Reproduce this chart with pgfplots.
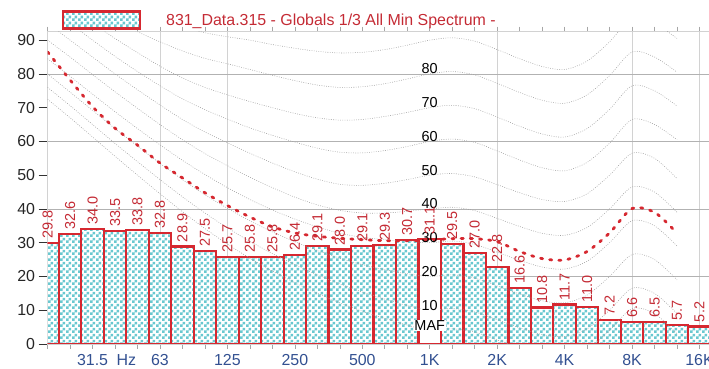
\documentclass[border=0pt]{standalone}
\usepackage{pgfplots}
\pgfplotsset{compat=1.18}
\usepackage{pgfplotstable}
\usepackage{fontspec}
\setmainfont{Liberation Sans}
\usetikzlibrary{patterns}

\pgfdeclarepatternformonly{chkpat}{\pgfpointorigin}{\pgfqpoint{6bp}{6bp}}{\pgfqpoint{6bp}{6bp}}{%
  \pgfpathrectangle{\pgfpointorigin}{\pgfqpoint{3bp}{3bp}}%
  \pgfpathrectangle{\pgfqpoint{3bp}{3bp}}{\pgfqpoint{3bp}{3bp}}%
  \pgfusepath{fill}}

\definecolor{barred}{RGB}{214,40,48}
\definecolor{lblred}{RGB}{196,42,52}
\definecolor{chkcol}{RGB}{105,200,208}
\definecolor{tickblue}{RGB}{50,80,145}

\pgfplotstableread{
i v
0 29.8
1 32.6
2 34.0
3 33.5
4 33.8
5 32.8
6 28.9
7 27.5
8 25.7
9 25.8
10 25.8
11 26.4
12 29.1
13 28.0
14 29.1
15 29.3
16 30.7
17 31.1
18 29.5
19 27.0
20 22.8
21 16.6
22 10.8
23 11.7
24 11.0
25 7.2
26 6.6
27 6.5
28 5.7
29 5.2
}\bars

\pgfplotstableread{
i v
17 31.1
}\barwhite

\pgfplotstableread{
i maf c10 c20 c30 c40 c50 c60 c70 c80 c90
0 72.5 76 80 84.5 90 95 100 105 110 115
1 67 70.6 74.6 79.3 85 90 95 100 105 111
2 61.3 65 69.2 74 79.8 85 90 95 100 107
3 55.6 59.4 63.8 68.8 74.7 80 85.2 90.5 96 103
4 50 54 58.6 63.8 69.8 75.3 80.7 86.3 92.5 99.5
5 44.5 48.7 53.5 59 65 70.8 76.5 82.3 89.5 96.5
6 39.2 43.6 48.7 54.4 60.5 66.5 72.6 78.8 86.8 94
7 34.2 38.8 44.2 50.2 56.4 62.8 69.4 76 84.6 92.2
8 29.6 34.4 40.2 46.3 52.8 59.6 66.6 73.8 83 91
9 25.4 30.4 36.5 42.8 49.4 56.5 64 71.8 81.3 90
10 21.6 26.8 33.2 39.7 46.3 53.6 61.8 70 79.6 88.7
11 18.2 23.5 30.3 37 43.5 51 59.8 68.3 78 87.6
12 15 20.5 27.7 34.7 41.2 48.8 58 67 76.7 86.7
13 12.2 17.8 25.4 32.8 39.6 47.3 56.8 66.3 76 86.2
14 9.7 15.4 23.5 31.6 38.8 47 56.6 66.5 76.2 86.4
15 7.6 13.3 22 30.9 38.8 47.6 57.3 67.4 77.1 87.2
16 5.6 11.4 20.8 30.4 39.3 48.7 58.5 68.6 78.5 88.5
17 4 10 20 30 40 50 60 70 80 90
18 4.5 10.5 20.5 30.5 40.5 50.5 60.7 70.7 80.7 90.7
19 3.5 9.5 19.5 29.5 39.5 49.5 59.7 69.7 79.7 89.7
20 1.2 7.2 17.2 27.2 37.2 47.2 57.2 67.2 77.2 87.2
21 -1.2 4.8 14.8 24.8 34.8 44.8 54.5 64.5 74.5 84.5
22 -3.2 2.8 12.8 22.8 32.8 42.8 52.2 62.2 72.2 82.2
23 -3.8 2.2 12.2 22.2 32.2 42.2 51.3 61.3 71.3 81.3
24 -1.5 4.5 14.5 24.5 34.5 44.5 53.8 63.8 73.8 83.8
25 4 10 20 30 40 50 59.5 69.5 79.5 89.5
26 10.5 16.5 26.5 36.5 46.5 56.5 66.5 76.5 86.5 96.5
27 9 15 25 35 45 55 65 75 85 95
28 3 9 19 29 39 49 60.5 70.5 80.5 90.5
}\contours

\pgfplotstableread{
i v
0 86.5
1 78.2
2 70.3
3 63.9
4 58.9
5 53.6
6 49.2
7 44.8
8 41
9 37.6
10 34.7
11 32.9
12 31.9
13 31.3
14 30.9
15 30.6
16 30.6
17 30.8
18 31.2
19 31.2
20 30.3
21 27.4
22 25.3
23 24.9
24 27.4
25 32.9
26 40.1
27 39
27.9 33.5
}\redcurve

\begin{document}
\begin{tikzpicture}
\useasboundingbox (0,0) rectangle (709bp,369bp);
\begin{axis}[
  at={(47.6bp,25bp)}, anchor=south west,
  scale only axis, width=662bp, height=312.3bp,
  xmin=0, xmax=29.45, ymin=0, ymax=92.5,
  axis line style={gray!35, line width=0.6pt},
  xtick={2,3.5,5,8,11,14,17,20,23,26,29},
  xticklabels={31.5,Hz,63,125,250,500,1K,2K,4K,8K,16K},
  minor xtick={0,1,...,29},
  ytick={0,10,...,90},
  tick align=outside,
  major tick length=9bp, minor tick length=5bp,
  major x tick style={draw=none},
  minor x tick style={gray!70, line width=0.6pt},
  ytick style={black!80, line width=0.7pt},
  xticklabel style={text=tickblue, font=\fontsize{16}{19}\selectfont, yshift=2bp},
  yticklabel style={text=black!85, font=\fontsize{16}{19}\selectfont},
  /pgf/number format/assume math mode=true,
  extra x ticks={5,8,20,26,29},
  extra x tick labels={},
  extra x tick style={grid=major, major grid style={gray!35, line width=0.5pt}, major tick length=0pt},
  extra y ticks={20,40,60,80},
  extra y tick labels={},
  extra y tick style={grid=major, major grid style={gray!60, line width=0.6pt}, major tick length=0pt},
  legend style={at={(axis description cs:0.0217,1.0375)}, anchor=west, draw=none, fill=none,
    inner sep=0pt, outer sep=0pt, font=\fontsize{16}{19}\selectfont, text=lblred,
    /tikz/every odd column/.append style={column sep=23bp}},
]
\addplot[ybar, bar width=1, bar shift=0pt, draw=barred, line width=2.2pt,
  preaction={fill=white}, pattern=chkpat, pattern color=chkcol,
  nodes near coords={\pgfmathprintnumber[fixed,fixed zerofill,precision=1,assume math mode=true]{\pgfplotspointmeta}},
  every node near coord/.append style={rotate=90, anchor=west, text=lblred, font=\fontsize{14.5}{16}\selectfont},
  legend image code/.code={\draw[draw=barred, line width=2.2pt, preaction={fill=white}, pattern=chkpat, pattern color=chkcol] (0bp,-8.5bp) rectangle (77bp,8.5bp);}
] table[x=i, y=v] {\bars};
\addlegendentry{831\_Data.315 - Globals 1/3 All Min Spectrum -}
\addplot[ybar, bar width=1, bar shift=0pt, draw=barred, line width=2.2pt, fill=white, forget plot] table[x=i, y=v] {\barwhite};

\pgfplotsset{cstyle/.style={forget plot, gray!75, line width=0.55pt, dash pattern=on 0.8pt off 1.5pt, smooth, tension=0.5}}
\addplot[cstyle] table[x=i, y=maf] {\contours};
\addplot[cstyle] table[x=i, y=c10] {\contours};
\addplot[cstyle] table[x=i, y=c20] {\contours};
\addplot[cstyle] table[x=i, y=c30] {\contours};
\addplot[cstyle] table[x=i, y=c40] {\contours};
\addplot[cstyle] table[x=i, y=c50] {\contours};
\addplot[cstyle] table[x=i, y=c60] {\contours};
\addplot[cstyle] table[x=i, y=c70] {\contours};
\addplot[cstyle] table[x=i, y=c80] {\contours};
\addplot[cstyle] table[x=i, y=c90] {\contours};

\addplot[forget plot, barred, line width=2.8pt, dash pattern=on 2.2bp off 7bp, line cap=round, smooth, tension=0.5] table[x=i, y=v] {\redcurve};

\node[anchor=base, font=\fontsize{14.5}{16}\selectfont, inner sep=0.5pt] at (axis cs:17,80) {80};
\node[anchor=base, font=\fontsize{14.5}{16}\selectfont, inner sep=0.5pt] at (axis cs:17,70) {70};
\node[anchor=base, font=\fontsize{14.5}{16}\selectfont, inner sep=0.5pt] at (axis cs:17,60) {60};
\node[anchor=base, font=\fontsize{14.5}{16}\selectfont, inner sep=0.5pt] at (axis cs:17,50) {50};
\node[anchor=base, font=\fontsize{14.5}{16}\selectfont, inner sep=0.5pt] at (axis cs:17,40) {40};
\node[anchor=base, font=\fontsize{14.5}{16}\selectfont, inner sep=0.5pt] at (axis cs:17,30) {30};
\node[anchor=base, font=\fontsize{14.5}{16}\selectfont, inner sep=0.5pt] at (axis cs:17,20) {20};
\node[anchor=base, font=\fontsize{14.5}{16}\selectfont, fill=white, inner sep=1pt] at (axis cs:17,10) {10};
\node[anchor=base, font=\fontsize{14.5}{16}\selectfont, fill=white, inner sep=1pt] at (axis cs:17,4) {MAF};
\node[font=\fontsize{16}{19}\selectfont, text=black!85] at (rel axis cs:-0.031,0.925) {dB};
\end{axis}
\end{tikzpicture}
\end{document}
